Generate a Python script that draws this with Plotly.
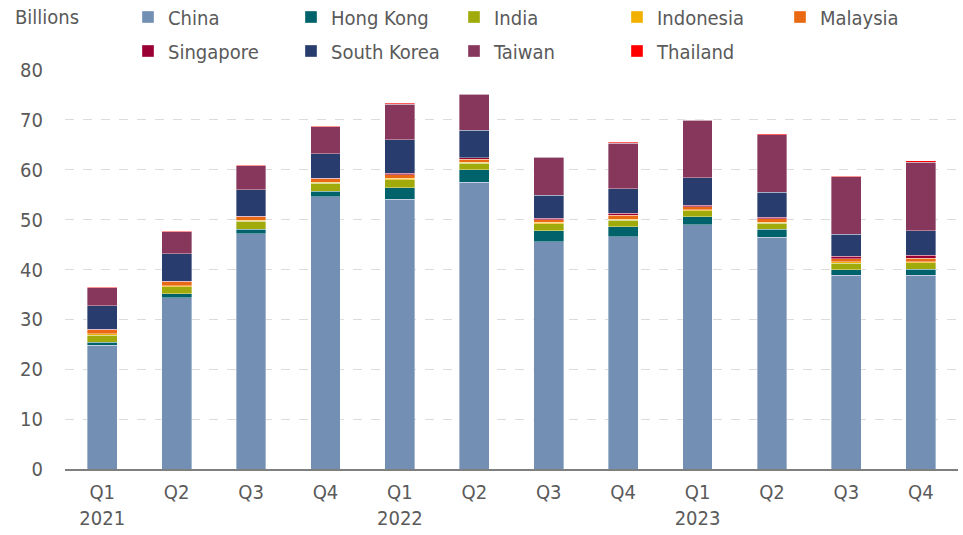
import plotly.graph_objects as go

categories = ["2021 Q1", "2021 Q2", "2021 Q3", "2021 Q4",
              "2022 Q1", "2022 Q2", "2022 Q3", "2022 Q4",
              "2023 Q1", "2023 Q2", "2023 Q3", "2023 Q4"]
tick_labels = ["Q1<br>2021", "Q2", "Q3", "Q4",
               "Q1<br>2022", "Q2", "Q3", "Q4",
               "Q1<br>2023", "Q2", "Q3", "Q4"]

china       = [24.8, 34.3, 47.2, 54.6, 54.1, 57.5, 45.6, 46.6, 49.0, 46.5, 38.8, 38.8]
hong_kong   = [0.65, 0.8, 0.9, 1.05, 2.3, 2.5, 2.2, 1.95, 1.6, 1.55, 1.15, 1.25]
india       = [1.4, 1.4, 1.6, 1.65, 1.6, 1.35, 1.4, 1.3, 1.2, 1.2, 1.35, 1.35]
indonesia   = [0.3, 0.2, 0.2, 0.2, 0.3, 0.2, 0.25, 0.2, 0.2, 0.2, 0.3, 0.2]
malaysia    = [0.75, 0.8, 0.7, 0.65, 0.7, 0.6, 0.5, 0.8, 0.6, 0.7, 0.6, 0.65]
singapore   = [0.1, 0.1, 0.1, 0.1, 0.3, 0.3, 0.3, 0.4, 0.3, 0.35, 0.5, 0.65]
south_korea = [4.7, 5.6, 5.3, 4.95, 6.7, 5.5, 4.6, 4.95, 5.5, 5.0, 4.4, 4.9]
taiwan      = [3.6, 4.4, 4.8, 5.4, 7.1, 7.2, 7.7, 9.1, 11.5, 11.5, 11.5, 13.7]
thailand    = [0.1, 0.1, 0.1, 0.1, 0.2, 0.1, 0.1, 0.2, 0.1, 0.2, 0.1, 0.3]

series = [
    ("China", china, "#7390B4"),
    ("Hong Kong", hong_kong, "#00626B"),
    ("India", india, "#A0AA0A"),
    ("Indonesia", indonesia, "#F2B000"),
    ("Malaysia", malaysia, "#EA6A14"),
    ("Singapore", singapore, "#9B0034"),
    ("South Korea", south_korea, "#283D6E"),
    ("Taiwan", taiwan, "#88375C"),
    ("Thailand", thailand, "#FF0000"),
]

FONT = "DejaVu Sans Condensed, DejaVu Sans, sans-serif"
TXT = "#5a5a5a"
W, H = 963, 535
ML, MR, MT, MB = 65, 5, 70, 66
PW, PH = W - ML - MR, H - MT - MB

fig = go.Figure()
for i, (name, vals, col) in enumerate(series):
    fig.add_trace(go.Bar(
        x=categories, y=vals, name=name,
        legend="legend" if i < 5 else "legend2",
        marker=dict(color=col, line=dict(color="rgba(255,255,255,0.45)", width=0.8)),
    ))

leg_common = dict(
    orientation="h", xref="container", yref="container",
    xanchor="left", yanchor="middle",
    entrywidth=118, font=dict(size=20, color=TXT),
    itemwidth=30, traceorder="normal", bgcolor="rgba(0,0,0,0)",
)

fig.update_layout(
    width=W, height=H,
    barmode="stack", bargap=0.6,
    plot_bgcolor="white", paper_bgcolor="white",
    margin=dict(l=ML, r=MR, t=MT, b=MB, autoexpand=False),
    font=dict(family=FONT, size=20, color=TXT),
    legend=dict(leg_common, x=128 / W, y=1 - 17 / H),
    legend2=dict(leg_common, x=128 / W, y=1 - 51 / H),
    showlegend=True,
    annotations=[dict(
        text="Billions", xref="paper", yref="paper",
        x=(13 - ML) / PW, y=1 + (MT - 17) / PH,
        showarrow=False, xanchor="left", yanchor="middle",
        font=dict(size=20, color=TXT),
    )],
)

fig.update_xaxes(
    type="category", tickmode="array", tickvals=categories, ticktext=tick_labels,
    showgrid=False, showline=True, linecolor="#7f7f7f", linewidth=2,
    ticks="", tickfont=dict(size=20, color=TXT), ticklabelstandoff=4,
)
fig.update_yaxes(
    range=[0, 80], dtick=10, showgrid=True, gridcolor="#dcdcdc", griddash="dash",
    gridwidth=1, zeroline=False, showline=False, ticks="",
    tickfont=dict(size=20, color=TXT), ticklabelstandoff=21,
)

fig.write_html("out.html", config={"displayModeBar": False},
               post_script="document.body.style.margin='0';")
